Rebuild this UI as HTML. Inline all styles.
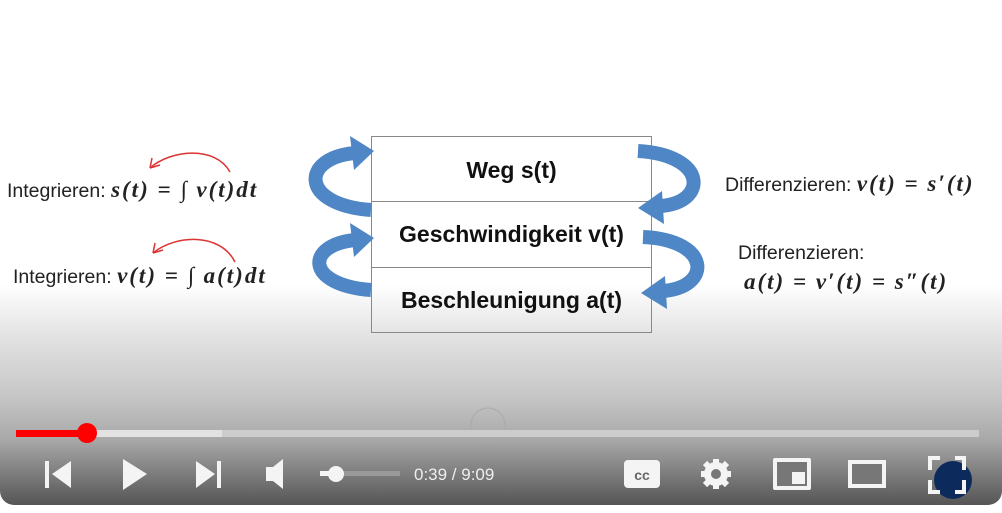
<!DOCTYPE html>
<html><head><meta charset="utf-8"><style>
body{margin:0;width:1002px;height:513px;overflow:hidden;background:#fff;font-family:"Liberation Sans",sans-serif;}
#v{position:absolute;left:0;top:0;width:1002px;height:505px;border-radius:0 0 14px 14px;overflow:hidden;background:linear-gradient(#fff 0,#fff 285px,#e6e6e6 330px,#c4c4c4 400px,#a8a8a8 440px,#555 505px);}
.t{position:absolute;white-space:nowrap;color:#222;font-size:19.5px;}
.box{position:absolute;left:371px;width:281px;border:1px solid #888;text-align:center;font-weight:bold;font-size:23px;color:#111;box-sizing:border-box;}
.m{font-family:"Liberation Serif",serif;font-style:italic;font-weight:bold;font-size:23px;letter-spacing:2px;}
</style></head><body>
<div id="v">
<div class="box" style="top:136px;height:66px;line-height:66px;">Weg s(t)</div>
<div class="box" style="top:201px;height:67px;line-height:67px;border-top:none;">Geschwindigkeit v(t)</div>
<div class="box" style="top:267px;height:66px;line-height:66px;border-top:none;">Beschleunigung a(t)</div>
<svg width="1002" height="513" style="position:absolute;left:0;top:0">
<g fill="none" stroke="#4f86c6" stroke-width="14">
<path d="M371,210 C 300,205 300,158 355,153"/>
<path d="M371,290 C 305,285 305,245 355,240"/>
<path d="M638,151 C 708,155 708,203 660,206"/>
<path d="M643,237 C 712,240 712,288 662,291"/>
</g>
<g fill="#4f86c6">
<polygon points="374,151 350,136 354,170"/>
<polygon points="374,238 350,223 354,257"/>
<polygon points="638,208 662,191 664,224"/>
<polygon points="641,293 665,276 667,309"/>
</g>
<g fill="none" stroke="#d33" stroke-width="1.5">
<path d="M230,172 C 215,145 170,150 150,168"/><path d="M150,168 l2,-10 M150,168 l10,-3"/>
<path d="M235,262 C 220,232 175,235 153,253"/><path d="M153,253 l2,-10 M153,253 l10,-3"/>
</g>
<circle cx="488" cy="425" r="17" fill="none" stroke="#aaa" stroke-width="1"/>
<rect x="16" y="430" width="963" height="7" fill="#ccc"/>
<rect x="16" y="430" width="206" height="7" fill="#e2e2e2"/>
<rect x="16" y="430" width="71" height="7" fill="#f00"/>
<circle cx="87" cy="433" r="10" fill="#f00"/>
<g fill="#f4f4f4">
<rect x="45" y="461" width="4" height="27"/><polygon points="71,461 71,488 52,474"/>
<polygon points="123,459 123,490 147,474"/>
<polygon points="196,461 196,488 215,474"/><rect x="217" y="461" width="4" height="27"/>
<rect x="266" y="467" width="7" height="14"/><polygon points="273,467 283,459 283,489 273,481"/>
<rect x="320" y="471" width="16" height="5"/><rect x="336" y="471" width="64" height="5" fill="#999"/><circle cx="336" cy="474" r="8"/>
<rect x="624" y="460" width="36" height="28" rx="4"/>
<rect x="773" y="458" width="38" height="32" rx="2"/><rect x="777" y="462" width="30" height="24" fill="#777"/><rect x="792" y="472" width="13" height="12"/>
<rect x="848" y="460" width="38" height="28"/><rect x="852" y="464" width="30" height="20" fill="#777"/>
<circle cx="716" cy="474" r="12"/>
<g stroke="#f4f4f4" stroke-width="6"><line x1="716" y1="459" x2="716" y2="489"/><line x1="701" y1="474" x2="731" y2="474"/><line x1="705" y1="463" x2="727" y2="485"/><line x1="727" y1="463" x2="705" y2="485"/></g>
</g>
<circle cx="716" cy="474" r="5" fill="#777"/>
<text x="642" y="480" font-family="Liberation Sans" font-weight="bold" font-size="14" fill="#666" text-anchor="middle">cc</text>
<circle cx="953" cy="480" r="19" fill="#0d2a5c"/>
<path d="M930,470 v-12 h10 M955,458 h9 v12 M930,480 v12 h10 M955,492 h9 v-12" stroke="#f4f4f4" stroke-width="4" fill="none"/>
<text x="414" y="480" font-family="Liberation Sans" font-size="17" fill="#eee">0:39 / 9:09</text>
</svg>
<div class="t" style="left:7px;top:177px;">Integrieren: <span class="m">s(t) = ∫ v(t)dt</span></div>
<div class="t" style="left:13px;top:263px;">Integrieren: <span class="m">v(t) = ∫ a(t)dt</span></div>
<div class="t" style="left:725px;top:171px;">Differenzieren: <span class="m">v(t) = s′(t)</span></div>
<div class="t" style="left:738px;top:242px;">Differenzieren:</div>
<div class="t" style="left:744px;top:269px;"><span class="m">a(t) = v′(t) = s″(t)</span></div>
</div>
</body></html>
